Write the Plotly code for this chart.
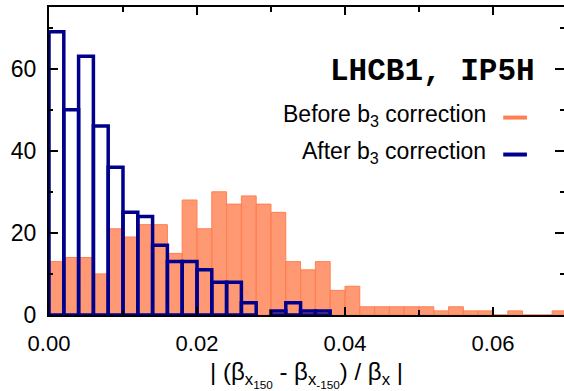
import plotly.graph_objects as go

# Histogram data (bin width 0.002, first bin starts at 0.0)
bin_width = 0.002
before_b3 = [13, 14, 14, 10, 21, 19, 22, 22, 15, 28, 21, 30, 27, 29, 27, 25, 13,
             11, 13, 6, 7, 2, 2, 2, 2, 2, 1, 2, 1, 1, 0, 1, 0, 0, 1]
after_b3 = [69, 50, 63, 46, 36, 25, 24, 17, 13, 13, 11, 8, 8, 3, None, 1, 3, 1, 1]

x_ticks = [0.00, 0.02, 0.04, 0.06]
y_ticks = [0, 20, 40, 60]

ORANGE_LINE = "rgb(255,127,80)"
ORANGE_FILL = "rgba(255,127,80,0.8)"
BLUE = "rgb(0,0,140)"
FONT = "Liberation Sans, Arial, sans-serif"

fig = go.Figure()
fig.add_trace(go.Bar(
    y=before_b3, x0=bin_width / 2, dx=bin_width, width=bin_width,
    marker=dict(color=ORANGE_FILL, line=dict(color=ORANGE_LINE, width=1)),
    xaxis="x", yaxis="y", showlegend=False, hoverinfo="skip"))
fig.add_trace(go.Bar(
    y=after_b3, x0=bin_width / 2, dx=bin_width, width=bin_width,
    marker=dict(color="rgba(0,0,0,0)", line=dict(color=BLUE, width=3.5)),
    xaxis="x", yaxis="y2", showlegend=False, hoverinfo="skip"))

yr = [0, 75]
fig.update_layout(
    width=564, height=391,
    margin=dict(l=49, r=0, t=7, b=76),
    paper_bgcolor="white", plot_bgcolor="white",
    barmode="overlay",
    font=dict(family=FONT, size=22, color="black"),
    xaxis=dict(
        range=[0, 0.0696], tickvals=x_ticks, tickformat=".2f",
        ticks="inside", ticklen=8, tickwidth=1.5, tickcolor="black",
        minor=dict(dtick=0.01, ticks="inside", ticklen=5, tickwidth=1.5, tickcolor="black", showgrid=False),
        showline=True, linecolor="black", linewidth=2, mirror="ticks",
        showgrid=False, zeroline=False, ticklabelstandoff=8, automargin=False,
        tickfont=dict(size=22),
        title=dict(text="| (β<sub>x<sub>150</sub></sub> - β<sub>x<sub>-150</sub></sub>) / β<sub>x</sub> |",
                   font=dict(size=24), standoff=9),
    ),
    yaxis=dict(
        range=yr, tickvals=y_ticks,
        ticks="inside", ticklen=9, tickwidth=1.5, tickcolor="black",
        minor=dict(dtick=10, ticks="inside", ticklen=4, tickwidth=1.5, tickcolor="black", showgrid=False),
        showline=True, linecolor="black", linewidth=2,
        showgrid=False, zeroline=False, ticklabelstandoff=6, automargin=False,
        tickfont=dict(size=23),
    ),
    yaxis2=dict(
        range=yr, overlaying="y", side="right", anchor="x",
        tickvals=y_ticks, showticklabels=False,
        ticks="inside", ticklen=9, tickwidth=1.5, tickcolor="black",
        minor=dict(dtick=10, ticks="inside", ticklen=4, tickwidth=1.5, tickcolor="black", showgrid=False),
        showline=False, showgrid=False, zeroline=False, automargin=False,
    ),
)

# Title inside plot
fig.add_annotation(text="<b>LHCB1, IP5H</b>", xref="paper", yref="paper",
                   x=0.947, y=0.79, xanchor="right", yanchor="middle", showarrow=False,
                   font=dict(family="Liberation Mono, Courier New, monospace", size=31, color="black"))

# Legend (text right, sample line at right)
legend_items = [("Before b<sub>3</sub> correction", ORANGE_LINE, 0.649),
                ("After b<sub>3</sub> correction", BLUE, 0.529)]
for label, col, yy in legend_items:
    fig.add_annotation(text=label, xref="paper", yref="paper", x=0.852, y=yy,
                       xanchor="right", yanchor="middle", showarrow=False,
                       font=dict(size=23, color="black"))
    fig.add_shape(type="line", xref="paper", yref="paper", x0=0.882, x1=0.928, y0=yy - 0.008, y1=yy - 0.008,
                  line=dict(color=col, width=4))

fig.write_html("out.html")
